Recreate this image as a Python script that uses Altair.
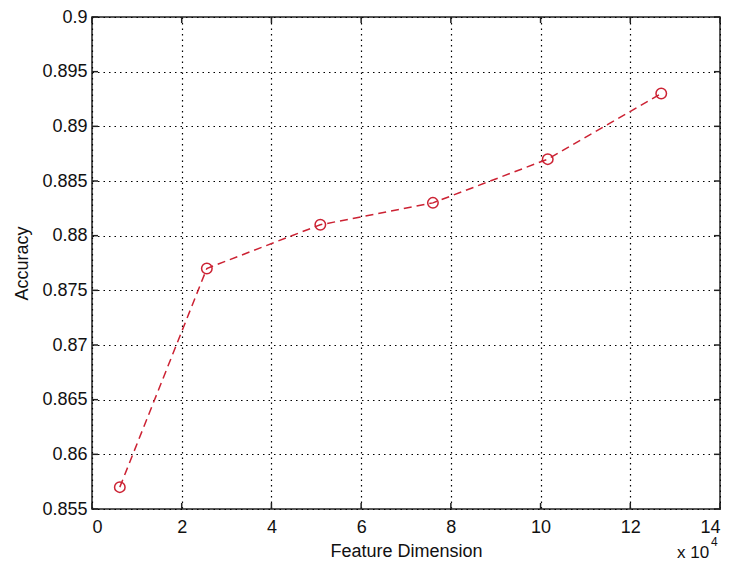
import altair as alt
import pandas as pd

# Data (feature dimension in units of 10^4)
dims = [0.62, 2.56, 5.09, 7.60, 10.16, 12.69]
accuracy = [0.857, 0.877, 0.881, 0.883, 0.887, 0.893]

x_ticks = [0, 2, 4, 6, 8, 10, 12, 14]
y_ticks = [0.855, 0.86, 0.865, 0.87, 0.875, 0.88, 0.885, 0.89, 0.895, 0.9]

W, H = 628, 492
FONT = "Liberation Sans"
RED = "#cc2233"

df = pd.DataFrame({"dim": dims, "acc": accuracy})
xt = pd.DataFrame({"v": x_ticks})
yt = pd.DataFrame({"v": y_ticks})

xscale = alt.Scale(domain=[0, 14], nice=False, zero=False)
yscale = alt.Scale(domain=[0.855, 0.9], nice=False, zero=False)

xaxis = alt.Axis(values=x_ticks, title="Feature Dimension", grid=True,
                 gridDash=[1.5, 4], gridColor="#000000", gridWidth=1.2, gridOpacity=1,
                 ticks=False, domain=False, labelFont=FONT, labelFontSize=18,
                 labelColor="#111111", labelPadding=9, titleFont=FONT,
                 titleFontSize=18, titleFontWeight="normal", titleColor="#111111",
                 titlePadding=6)
yaxis = alt.Axis(values=y_ticks, title="Accuracy", grid=True, format=".3~f",
                 gridDash=[1.5, 4], gridColor="#000000", gridWidth=1.2, gridOpacity=1,
                 ticks=False, domain=False, labelFont=FONT, labelFontSize=18,
                 labelColor="#111111", labelPadding=5, titleFont=FONT,
                 titleFontSize=18, titleFontWeight="normal", titleColor="#111111",
                 titlePadding=10)

line = alt.Chart(df).mark_line(color=RED, strokeDash=[8, 5], strokeWidth=1.5).encode(
    x=alt.X("dim:Q", scale=xscale, axis=xaxis),
    y=alt.Y("acc:Q", scale=yscale, axis=yaxis),
)
pts = alt.Chart(df).mark_point(shape="circle", filled=False, color=RED, size=110,
                               strokeWidth=1.5, opacity=1).encode(
    x=alt.X("dim:Q", scale=xscale, axis=xaxis),
    y=alt.Y("acc:Q", scale=yscale, axis=yaxis),
)

TL = 6
tick_style = dict(color="#222222", strokeWidth=1.5)
xb = alt.Chart(xt).mark_rule(**tick_style).encode(
    x=alt.X("v:Q", scale=xscale, axis=xaxis), y=alt.value(H), y2=alt.value(H - TL))
xtp = alt.Chart(xt).mark_rule(**tick_style).encode(
    x=alt.X("v:Q", scale=xscale, axis=xaxis), y=alt.value(0), y2=alt.value(TL))
yl = alt.Chart(yt).mark_rule(**tick_style).encode(
    y=alt.Y("v:Q", scale=yscale, axis=yaxis), x=alt.value(0), x2=alt.value(TL))
yr = alt.Chart(yt).mark_rule(**tick_style).encode(
    y=alt.Y("v:Q", scale=yscale, axis=yaxis), x=alt.value(W), x2=alt.value(W - TL))

exp_base = alt.Chart(pd.DataFrame({"t": ["x 10"]})).mark_text(
    font=FONT, fontSize=17, align="left", baseline="middle", color="#111111"
).encode(x=alt.value(585), y=alt.value(536), text="t:N")
exp_sup = alt.Chart(pd.DataFrame({"t": ["4"]})).mark_text(
    font=FONT, fontSize=12, align="left", baseline="middle", color="#111111"
).encode(x=alt.value(619), y=alt.value(525), text="t:N")

chart = alt.layer(xb, xtp, yl, yr, line, pts, exp_base, exp_sup).properties(
    width=W, height=H,
    autosize=alt.AutoSizeParams(type="none"),
    padding={"left": 84, "top": 9, "right": 1, "bottom": 54},
    background="white",
).configure_view(stroke="#222222", strokeWidth=1.5)

chart.save("out.html", embed_options={"renderer": "svg", "actions": False})
